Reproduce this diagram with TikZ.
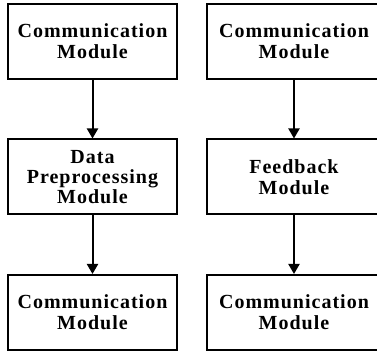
\documentclass[tikz,border=0pt]{standalone}
\usepackage{fontspec}
\setmainfont{Liberation Serif}
\usepackage{tikz}
\usetikzlibrary{arrows.meta,positioning}
\newfontfamily\modfont[LetterSpace=5]{Liberation Serif Bold}
\tikzset{
  modbox/.style={draw=black, line width=2pt, fill=white, align=center,
                 minimum width=169pt, minimum height=75pt, inner sep=0pt,
                 font=\modfont\fontsize{20}{21}\selectfont},
  modwide/.style={modbox, minimum width=174pt},
  modedge/.style={-{Triangle[length=10pt,width=11pt]}, draw=black, line width=2pt},
}
\begin{document}
\begin{tikzpicture}[x=1pt,y=1pt]
  \useasboundingbox (0,0) rectangle (377,352);
  % left column
  \node[modbox] (lcomtop) at (92.5,310.5) {Communication\\Module};
  \node[modbox, font=\modfont\fontsize{20}{20}\selectfont] (lprep) at (92.5,175)
    {Data\\Preprocessing\\Module};
  \node[modbox] (lcombot) at (92.5,39.5)  {Communication\\Module};
  % right column
  \node[modwide] (rcomtop) at (294,310.5) {Communication\\Module};
  \node[modwide] (rfeed)   at (294,175)   {Feedback\\Module};
  \node[modwide] (rcombot) at (294,39.5)  {Communication\\Module};

  \draw[modedge] (lcomtop) -- (lprep);
  \draw[modedge] (lprep) -- (lcombot);
  \draw[modedge] (rcomtop) -- (rfeed);
  \draw[modedge] (rfeed) -- (rcombot);
\end{tikzpicture}
\end{document}
